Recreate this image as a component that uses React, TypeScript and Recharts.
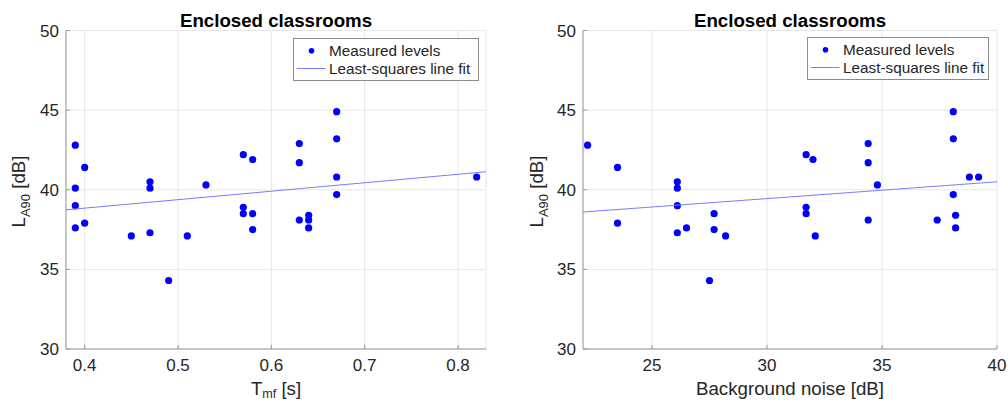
import React from 'react';
import { ScatterChart, Scatter, XAxis, YAxis, CartesianGrid } from 'recharts';

// ---- Data: left panel (reverberation time T_mf) ----
const tmfSeconds = [0.39, 0.39, 0.39, 0.39, 0.40, 0.40, 0.45, 0.47, 0.47, 0.47, 0.49, 0.51, 0.53, 0.57, 0.57, 0.57, 0.58, 0.58, 0.58, 0.63, 0.63, 0.63, 0.64, 0.64, 0.64, 0.67, 0.67, 0.67, 0.67, 0.82];
const tmfLevels = [42.8, 40.1, 39.0, 37.6, 41.4, 37.9, 37.1, 40.5, 40.1, 37.3, 34.3, 37.1, 40.3, 42.2, 38.9, 38.5, 41.9, 38.5, 37.5, 42.9, 41.7, 38.1, 38.4, 38.1, 37.6, 44.9, 43.2, 40.8, 39.7, 40.8];
const tmfFitX = [0.38, 0.83];
const tmfFitY = [38.74, 41.13];
const tmfTicks = [0.4, 0.5, 0.6, 0.7, 0.8];
const tmfDomain = [0.38, 0.83];

// ---- Data: right panel (background noise) ----
const noiseDb = [22.2, 23.5, 23.5, 26.1, 26.1, 26.1, 26.1, 26.5, 27.7, 27.7, 28.2, 27.5, 31.7, 32.0, 31.7, 31.7, 32.1, 34.4, 34.4, 34.4, 34.8, 38.1, 38.1, 38.1, 38.2, 38.2, 37.4, 38.8, 39.2];
const noiseLevels = [42.8, 41.4, 37.9, 40.5, 40.1, 39.0, 37.3, 37.6, 38.5, 37.5, 37.1, 34.3, 42.2, 41.9, 38.9, 38.5, 37.1, 42.9, 41.7, 38.1, 40.3, 44.9, 43.2, 39.7, 38.4, 37.6, 38.1, 40.8, 40.8];
const noiseFitX = [22, 40];
const noiseFitY = [38.6, 40.5];
const noiseTicks = [25, 30, 35, 40];
const noiseDomain = [22, 40];

// ---- Shared ----
const levelTicks = [30, 35, 40, 45, 50];
const levelDomain = [30, 50];
const titleText = 'Enclosed classrooms';
const legendLabels = ['Measured levels', 'Least-squares line fit'];

const FONT = '"Liberation Sans", Arial, Helvetica, sans-serif';
const AXIS_COLOR = '#9a9a9a';
const TEXT_COLOR = '#262626';
const POINT_COLOR = '#0000ff';
const FIT_COLOR = '#7b7bff';

const W = 504;
const H = 403;
const TOP = 30.5;
const XAXIS_H = 54;

const Dot = (props: any) => {
  if (props.cx == null || props.cy == null) return <g />;
  return <circle cx={props.cx} cy={props.cy} r={3.6} fill={POINT_COLOR} />;
};
const NoShape = () => <g />;

type PanelProps = {
  left: number;
  xs: number[];
  ys: number[];
  fitX: number[];
  fitY: number[];
  xDomain: number[];
  xTicks: number[];
  yAxisWidth: number;
  marginRight: number;
  yLabelX: number;
  legend: { x: number; y: number; w: number; h: number };
  xLabel: React.ReactNode;
};

function Panel(p: PanelProps) {
  const points = p.xs.map((x, i) => ({ x, y: p.ys[i] }));
  const fit = p.fitX.map((x, i) => ({ x, y: p.fitY[i] }));
  const plotLeft = p.yAxisWidth;
  const plotRight = W - p.marginRight;
  const cx = (plotLeft + plotRight) / 2;
  const tickStyle = { fontSize: 17, fill: TEXT_COLOR, fontFamily: FONT };
  return (
    <div style={{ position: 'absolute', left: p.left, top: 0, width: W, height: H }}>
      <ScatterChart
        width={W}
        height={H}
        margin={{ top: TOP, right: p.marginRight, bottom: 0, left: 0 }}
        style={{ fontFamily: FONT }}
      >
        <CartesianGrid stroke="#e6e6e6" strokeWidth={1} />
        <XAxis
          type="number"
          dataKey="x"
          domain={p.xDomain}
          ticks={p.xTicks}
          allowDataOverflow
          height={XAXIS_H}
          stroke={AXIS_COLOR}
          tickSize={-4}
          tickMargin={14}
          tick={tickStyle}
        />
        <XAxis
          xAxisId="top"
          orientation="top"
          type="number"
          dataKey="x"
          domain={p.xDomain}
          ticks={p.xTicks}
          allowDataOverflow
          height={0}
          stroke={AXIS_COLOR}
          tickSize={-4}
          tick={false}
        />
        <YAxis
          type="number"
          dataKey="y"
          domain={levelDomain}
          ticks={levelTicks}
          allowDataOverflow
          width={p.yAxisWidth}
          stroke={AXIS_COLOR}
          tickSize={-4}
          tickMargin={11}
          tick={tickStyle}
        />
        <YAxis
          yAxisId="right"
          orientation="right"
          type="number"
          dataKey="y"
          domain={levelDomain}
          ticks={levelTicks}
          allowDataOverflow
          width={0}
          stroke={AXIS_COLOR}
          tickSize={-4}
          tick={false}
        />
        <Scatter data={points} shape={Dot} isAnimationActive={false} />
        <Scatter
          data={fit}
          shape={NoShape}
          line={{ stroke: FIT_COLOR, strokeWidth: 1 }}
          isAnimationActive={false}
        />
      </ScatterChart>

      <svg
        width={W}
        height={H}
        style={{ position: 'absolute', left: 0, top: 0, pointerEvents: 'none', overflow: 'visible' }}
      >
        <text x={cx} y={27} textAnchor="middle" fontFamily={FONT} fontSize={18.7} fontWeight="bold" fill="#000">
          {titleText}
        </text>
        <text x={cx} y={394.5} textAnchor="middle" fontFamily={FONT} fontSize={18.7} fill={TEXT_COLOR}>
          {p.xLabel}
        </text>
        <text
          x={p.yLabelX}
          y={191.5}
          transform={`rotate(-90, ${p.yLabelX}, 191.5)`}
          textAnchor="middle"
          fontFamily={FONT}
          fontSize={18.7}
          fill={TEXT_COLOR}
        >
          L<tspan fontSize={13} dy={5}>A90</tspan>
          <tspan dy={-5}> [dB]</tspan>
        </text>
      </svg>

      <svg
        width={p.legend.w}
        height={p.legend.h}
        style={{ position: 'absolute', left: p.legend.x, top: p.legend.y, pointerEvents: 'none' }}
      >
        <rect x={0.5} y={0.5} width={p.legend.w - 1} height={p.legend.h - 1} fill="#fff" stroke="#8c8c8c" strokeWidth={1} />
        <circle cx={18.5} cy={12.7} r={2.8} fill={POINT_COLOR} />
        <line x1={3.7} y1={30.5} x2={32.5} y2={30.5} stroke={FIT_COLOR} strokeWidth={1} />
        <text x={36} y={18.3} fontFamily={FONT} fontSize={15.3} fill={TEXT_COLOR}>
          {legendLabels[0]}
        </text>
        <text x={36} y={36} fontFamily={FONT} fontSize={15.3} fill={TEXT_COLOR}>
          {legendLabels[1]}
        </text>
      </svg>
    </div>
  );
}

export default function App() {
  return (
    <div style={{ position: 'absolute', left: 0, top: 0, width: 1008, height: 403, background: '#fff', overflow: 'hidden' }}>
      <Panel
        left={0}
        xs={tmfSeconds}
        ys={tmfLevels}
        fitX={tmfFitX}
        fitY={tmfFitY}
        xDomain={tmfDomain}
        xTicks={tmfTicks}
        yAxisWidth={66}
        marginRight={18}
        yLabelX={25}
        legend={{ x: 293, y: 38, w: 186, h: 43 }}
        xLabel={
          <>
            T<tspan fontSize={12.5} dy={3.5}>mf</tspan>
            <tspan dy={-3.5}> [s]</tspan>
          </>
        }
      />
      <Panel
        left={504}
        xs={noiseDb}
        ys={noiseLevels}
        fitX={noiseFitX}
        fitY={noiseFitY}
        xDomain={noiseDomain}
        xTicks={noiseTicks}
        yAxisWidth={79}
        marginRight={11}
        yLabelX={39.3}
        legend={{ x: 303, y: 37, w: 182, h: 43 }}
        xLabel={'Background noise [dB]'}
      />
    </div>
  );
}
